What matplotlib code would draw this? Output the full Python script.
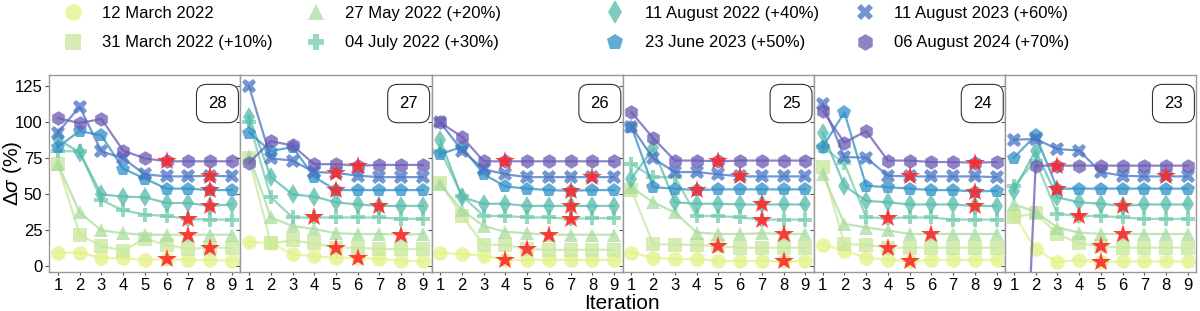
import numpy as np
import matplotlib.pyplot as plt
from matplotlib.lines import Line2D

plt.rcParams['font.family'] = ['Liberation Sans', 'DejaVu Sans']
plt.rcParams['mathtext.fontset'] = 'custom'
plt.rcParams['mathtext.rm'] = 'Liberation Sans'
plt.rcParams['mathtext.it'] = 'Liberation Sans:italic'

# === DATA ===
iterations = [1, 2, 3, 4, 5, 6, 7, 8, 9]
panel_labels = ['28', '27', '26', '25', '24', '23']

series_labels = [
    '12 March 2022', '31 March 2022 (+10%)', '27 May 2022 (+20%)', '04 July 2022 (+30%)',
    '11 August 2022 (+40%)', '23 June 2023 (+50%)', '11 August 2023 (+60%)', '06 August 2024 (+70%)',
]

# delta sigma (%) per panel (28 .. 23), 9 iterations each
mar12_2022 = [
    [9.5, 9.5, 6, 5.5, 4.5, 5, 4.5, 4.5, 4],
    [17, 16, 8.5, 7, 6, 6, 5, 4, 3.5],
    [9.5, 8.5, 7.5, 4.5, 4.5, 4.5, 4.5, 4.5, 4.5],
    [9.5, 6, 5, 5, 4, 3.5, 4, 3.5, 4],
    [15, 11, 6, 4.5, 3.5, 4.5, 4.5, 4.5, 4.5],
    [36, 12, 3, 4.5, 3, 3.5, 3.5, 3.5, 3.5],
]
mar31_2022 = [
    [71, 22, 14, 11, 19, 15, 12, 13, 13],
    [75, 16, 18, 16, 13, 13, 12, 12, 12],
    [58, 35, 15, 15, 12, 11.5, 11.5, 11.5, 11.5],
    [53, 15.5, 15, 15, 14, 13, 13, 13, 13],
    [69, 15.5, 15, 13, 13, 13, 13, 13, 13],
    [34, 37, 22.5, 16, 14, 13, 13, 13, 13],
]
may27_2022 = [
    [71, 37.5, 25, 23, 22, 22, 22, 22, 22],
    [77, 34, 28, 26, 23, 22.5, 22.5, 22, 22.5],
    [57, 39, 28, 24, 23, 22, 22, 22, 22],
    [55, 44.5, 37.5, 23.5, 22.5, 22.5, 23, 22.5, 22.5],
    [64, 29.5, 27, 25, 22.5, 22.5, 22.5, 22.5, 22.5],
    [43, 38, 27, 23.5, 22.5, 22.5, 22.5, 22.5, 22.5],
]
jul04_2022 = [
    [80, 80, 46, 39, 36, 35, 33, 32.5, 32.5],
    [100, 48, 34, 34, 34, 34, 34, 33, 33],
    [80.5, 49, 35, 35, 34, 34, 33, 33.5, 33.5],
    [71, 62, 62, 35, 35, 34, 32.5, 32.5, 32.5],
    [83, 71.5, 34, 33.5, 34, 34, 32.5, 32.5, 32.5],
    [56, 73.5, 36.5, 35, 35, 34, 33, 33, 33],
]
aug11_2022 = [
    [88.5, 79, 50, 48.5, 48, 44, 44, 42, 43],
    [104, 62, 50, 48.5, 44.5, 43, 42, 42, 42],
    [87.5, 48, 43.5, 43.5, 42, 42, 42, 42, 42],
    [61, 82, 44.5, 43.5, 43.5, 43, 43, 43, 43],
    [93, 56, 45.5, 44.5, 43, 43, 43, 42, 42],
    [52.5, 80.5, 48, 44.5, 43.5, 42, 43, 43, 43],
]
jun23_2023 = [
    [83, 94, 91, 68, 61, 54, 54, 53, 53],
    [93, 80, 83, 62, 53, 53, 53, 53, 53],
    [78, 83, 64, 55.5, 54, 53, 52.5, 53, 53],
    [97, 55, 54, 53, 53.5, 53.5, 53.5, 53.5, 53.5],
    [83, 107, 56, 55, 54, 53, 53, 52, 52.5],
    [75.5, 91, 54, 54, 54, 54, 54, 54, 54],
]
aug11_2023 = [
    [93, 111, 80, 75, 64, 62.5, 62.5, 63, 62.5],
    [125, 75, 73.5, 65.5, 65, 63, 62, 62, 62],
    [100, 80.5, 67.5, 64, 62, 62, 62, 62, 62],
    [97, 75, 65.5, 65.5, 64, 62.5, 62.5, 62.5, 62.5],
    [113, 76, 75.5, 63, 62.5, 62.5, 62.5, 62.5, 62],
    [88, 88.5, 81.5, 80.5, 65.5, 63, 62.5, 62.5, 62.5],
]
aug06_2024 = [
    [103, 99.5, 102.5, 80.5, 75, 73, 73, 73, 73],
    [72, 87, 84, 71, 71, 70, 70.5, 70.5, 70.5],
    [100, 90, 73, 73, 73, 73, 73, 73, 73],
    [107, 89, 73.5, 73.5, 73, 73.5, 73.5, 73.5, 73.5],
    [108, 86, 94, 73.5, 73.5, 72.5, 72.5, 72, 72.5],
    [-265, 70, 70, 70, 70, 70, 70, 70, 70],
]

# iteration marked with a red star, per series, per panel
best_iter = [
    [6, 6, 4, 8, 5, 5],
    [8, 5, 5, 5, 4, 5],
    [7, 8, 6, 8, 6, 6],
    [7, 4, 7, 7, 4, 4],
    [8, 7, 7, 7, 8, 6],
    [8, 5, 7, 4, 8, 3],
    [8, 5, 8, 6, 5, 8],
    [6, 6, 4, 5, 8, 3],
]

all_series = [mar12_2022, mar31_2022, may27_2022, jul04_2022,
              aug11_2022, jun23_2023, aug11_2023, aug06_2024]

# === STYLE ===
colors = ['#e3f285', '#c8e89b', '#aadc9f', '#74ccab', '#56baab', '#2e90c6', '#4674c3', '#6a5ab4']
markers = ['o', 's', '^', 'P', 'd', 'p', 'X', 'h']
ALPHA = 0.75
STAR = '#ff2a2a'
SPINE = '#999999'

fig, axes = plt.subplots(1, 6, figsize=(12, 3.11), dpi=100, sharey=True,
                         gridspec_kw={'wspace': 0})
fig.subplots_adjust(left=0.041, right=0.997, top=0.759, bottom=0.125)

for p, ax in enumerate(axes):
    for s, data in enumerate(all_series):
        ax.plot(iterations, data[p], color=colors[s], marker=markers[s], markersize=10.5,
                lw=1.6, alpha=ALPHA, markeredgewidth=0, zorder=2 + s * 0.1)
    for s, data in enumerate(all_series):
        it = best_iter[s][p]
        ax.plot(it, data[p][it - 1], marker='*', color=STAR, markersize=15,
                markeredgewidth=0, alpha=0.9, zorder=5)

    ax.set_xlim(0.6, 9.4)
    ax.set_ylim(-4, 133)
    ax.set_xticks(iterations)
    ax.set_yticks([0, 25, 50, 75, 100, 125])
    ax.tick_params(labelsize=12, color='#555555', width=0.8)
    ax.tick_params(axis='x', length=2.5, pad=1.5)
    ax.tick_params(axis='y', length=3, pad=2)
    for sp in ax.spines.values():
        sp.set_color(SPINE)
        sp.set_linewidth(1.0)
    ax.text(0.88, 0.855, panel_labels[p], transform=ax.transAxes, ha='center', va='center',
            fontsize=12, zorder=6,
            bbox=dict(boxstyle='round,pad=0.7,rounding_size=0.6', fc='white', ec='#333333', lw=0.8))

axes[0].set_ylabel(r'$\mathit{\Delta\sigma}$ (%)', fontsize=15)
axes[0].yaxis.set_label_coords(-0.13, 0.5)
fig.text(0.518, 0.008, 'Iteration', ha='center', va='baseline', fontsize=15)

handles = [Line2D([], [], color=colors[s], marker=markers[s], linestyle='none',
                  markersize=12, markeredgewidth=0, alpha=ALPHA) for s in range(8)]

leg_kw = dict(ncol=2, frameon=False, fontsize=12, borderpad=0, borderaxespad=0,
              handlelength=2, handletextpad=0.75, labelspacing=0.85, loc='upper left')
fig.legend(handles[:4], series_labels[:4], bbox_to_anchor=(0.0467, 0.98),
           columnspacing=1.6, **leg_kw)
fig.legend(handles[4:], series_labels[4:], bbox_to_anchor=(0.499, 0.98),
           columnspacing=1.75, **leg_kw)

fig.savefig('out.png', dpi=100)
